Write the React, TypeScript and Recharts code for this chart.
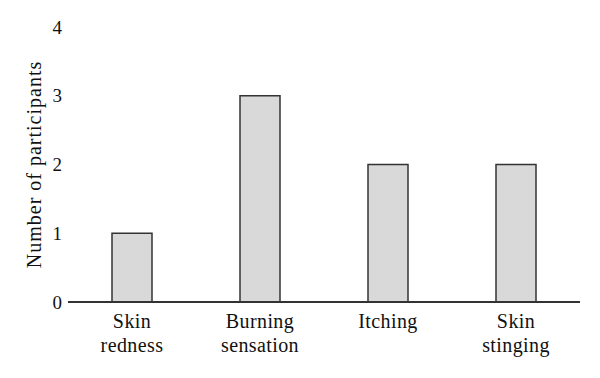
import React from "react";
import { BarChart, Bar, XAxis, YAxis } from "recharts";

const categories = ["Skin\nredness", "Burning\nsensation", "Itching", "Skin\nstinging"];
const participants = [1, 3, 2, 2];
const yTicks = [0, 1, 2, 3, 4];

const data = categories.map((c, i) => ({ name: c, value: participants[i] }));

const FONT = "'Liberation Serif', 'Times New Roman', serif";

const XTick = (props: any) => {
  const { x, y, payload } = props;
  const lines = String(payload.value).split("\n");
  return (
    <text x={x} y={y} textAnchor="middle" fill="#111" fontFamily={FONT} fontSize={20} letterSpacing={0.4}>
      {lines.map((l, i) => (
        <tspan key={i} x={x} y={y + 26 + i * 24}>
          {l}
        </tspan>
      ))}
    </text>
  );
};

const YLabel = (props: any) => {
  const vb = props.viewBox || {};
  const cy = vb.y + vb.height / 2;
  const cx = 34;
  return (
    <text
      x={cx}
      y={cy}
      transform={`rotate(-90, ${cx}, ${cy})`}
      textAnchor="middle"
      dominantBaseline="central"
      fill="#111"
      fontFamily={FONT}
      fontSize={20}
      letterSpacing={1}
    >
      Number of participants
    </text>
  );
};

export default function App() {
  return (
    <div style={{ position: "absolute", left: 0, top: 0, background: "#fff" }}>
      <BarChart
        width={600}
        height={378}
        data={data}
        margin={{ top: 27, right: 20, bottom: 0, left: 18 }}
        barSize={40}
      >
        <XAxis
          dataKey="name"
          tickLine={false}
          tickSize={0}
          tickMargin={0}
          height={76}
          axisLine={{ stroke: "#333", strokeWidth: 2 }}
          tick={<XTick />}
          interval={0}
        />
        <YAxis
          width={50}
          domain={[0, 4]}
          ticks={yTicks}
          axisLine={false}
          tickLine={false}
          tickSize={0}
          tickMargin={6}
          tick={{ fill: "#111", fontFamily: FONT, fontSize: 19 }}
          label={<YLabel />}
        />
        <Bar
          dataKey="value"
          fill="#d9d9d9"
          stroke="#333"
          strokeWidth={1.5}
          isAnimationActive={false}
        />
      </BarChart>
    </div>
  );
}
